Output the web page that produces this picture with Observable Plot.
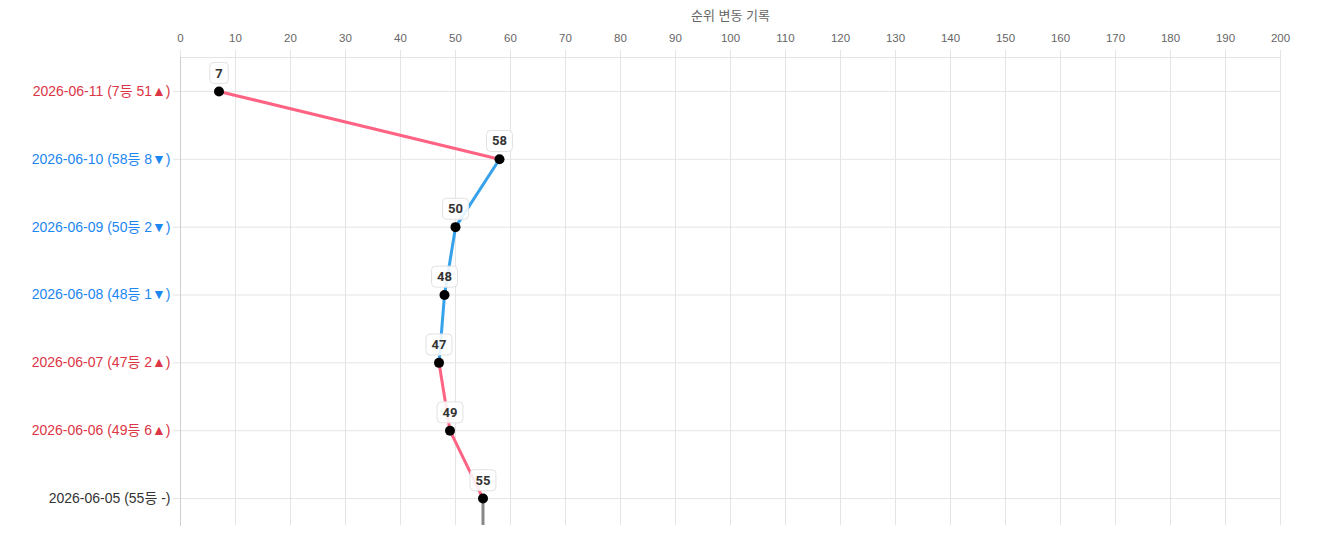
<!DOCTYPE html>
<html>
<head>
<meta charset="utf-8">
<script src="https://cdn.jsdelivr.net/npm/d3@7"></script>
<script src="https://cdn.jsdelivr.net/npm/@observablehq/plot@0.6"></script>
<style>
  html, body { margin: 0; padding: 0; background: #fff; }
  #chart { width: 1328px; height: 542px; overflow: hidden; }
</style>
</head>
<body>
<div id="chart"></div>
<script>
// ---- data (newest first, as in the chart) ----
const dates = ["2026-06-11", "2026-06-10", "2026-06-09", "2026-06-08", "2026-06-07", "2026-06-06", "2026-06-05"];
const ranks = [7, 58, 50, 48, 47, 49, 55];
const changes = [51, 8, 2, 1, 2, 6, 0];
const directions = ["up", "down", "down", "down", "up", "up", "same"];
const xTicks = [0, 10, 20, 30, 40, 50, 60, 70, 80, 90, 100, 110, 120, 130, 140, 150, 160, 170, 180, 190, 200];
const title = "순위 변동 기록";

const lineColor = {up: "#ff6384", down: "#36a2eb", same: "#888888"};
const labelColor = {up: "#dc3545", down: "#1c86f2", same: "#333333"};
const arrow = {up: "▲", down: "▼", same: ""};

const points = dates.map((d, i) => ({
  date: d,
  rank: ranks[i],
  dir: directions[i],
  label: `${d} (${ranks[i]}등 ${directions[i] === "same" ? "-" : changes[i] + arrow[directions[i]]})`
}));

// segment from each point to the next older one, coloured by the newer point's direction
const segments = points.slice(0, -1).map((p, i) => ({
  x1: p.rank, y1: p.date, x2: points[i + 1].rank, y2: points[i + 1].date, dir: p.dir
}));
const oldest = points[points.length - 1];

const font = "Arial, 'Liberation Sans', 'Noto Sans CJK KR', sans-serif";

const chart = Plot.plot({
  width: 1328,
  height: 542,
  marginLeft: 180,
  marginRight: 48,
  marginTop: 57,
  marginBottom: 17,
  style: {fontFamily: font, background: "#fff"},
  x: {domain: [0, 200], label: null},
  y: {type: "point", domain: dates, padding: 0.5, round: false, insetBottom: -7, label: null},
  marks: [
    Plot.gridX({ticks: xTicks, stroke: "#e4e4e4", strokeOpacity: 1}),
    Plot.gridY({stroke: "#e4e4e4", strokeOpacity: 1}),
    Plot.axisX({anchor: "top", ticks: xTicks, tickSize: 8, tickPadding: 8, fontSize: 11.5,
                fill: "#666", stroke: "#e4e4e4", label: null}),
    Plot.axisY({tickSize: 7, tickFormat: () => "", stroke: "#e4e4e4", label: null}),
    Plot.frame({anchor: "top", stroke: "#e4e4e4"}),
    Plot.frame({anchor: "left", stroke: "#cfcfcf"}),
    Plot.text([title], {frameAnchor: "top", dy: -46, lineAnchor: "middle", fontSize: 13, fill: "#666",
                        render: (i, s, v, d, c, next) => { const g = next(i, s, v, d, c); g.querySelectorAll("text").forEach(t => t.setAttribute("dy", "0.35em")); return g; }}),
    Plot.text(points, {y: "date", text: "label", frameAnchor: "left", textAnchor: "end", dx: -10,
                       fontSize: 14, fill: d => labelColor[d.dir]}),
    Plot.ruleX([oldest], {x: "rank", y1: "date", y2: "date", insetBottom: -60, clip: "frame",
                          stroke: lineColor.same, strokeWidth: 3}),
    Plot.link(segments, {x1: "x1", y1: "y1", x2: "x2", y2: "y2",
                         stroke: d => lineColor[d.dir], strokeWidth: 3}),
    Plot.dot(points, {x: "rank", y: "date", r: 5, fill: "black"}),
    Plot.text(points, {x: "rank", y: "date", text: d => String(d.rank), dy: -18,
                       fontSize: 13, fontWeight: "bold", fill: "#333", className: "val-labels",
                       fontFamily: "Roboto, Arial, sans-serif"})
  ]
});

document.getElementById("chart").appendChild(chart);

// white rounded boxes behind the value labels
chart.querySelectorAll("g.val-labels text").forEach(t => {
  const bb = t.getBBox();
  const rect = document.createElementNS("http://www.w3.org/2000/svg", "rect");
  const px = 5.5, py = 3;
  rect.setAttribute("x", bb.x - px);
  rect.setAttribute("y", bb.y - py);
  rect.setAttribute("width", bb.width + 2 * px);
  rect.setAttribute("height", bb.height + 2 * py);
  rect.setAttribute("rx", 4);
  rect.setAttribute("fill", "rgba(255,255,255,0.88)");
  rect.setAttribute("stroke", "#e2e2e2");
  rect.setAttribute("stroke-width", 1);
  if (t.getAttribute("transform")) rect.setAttribute("transform", t.getAttribute("transform"));
  t.parentNode.insertBefore(rect, t);
});
</script>
</body>
</html>
